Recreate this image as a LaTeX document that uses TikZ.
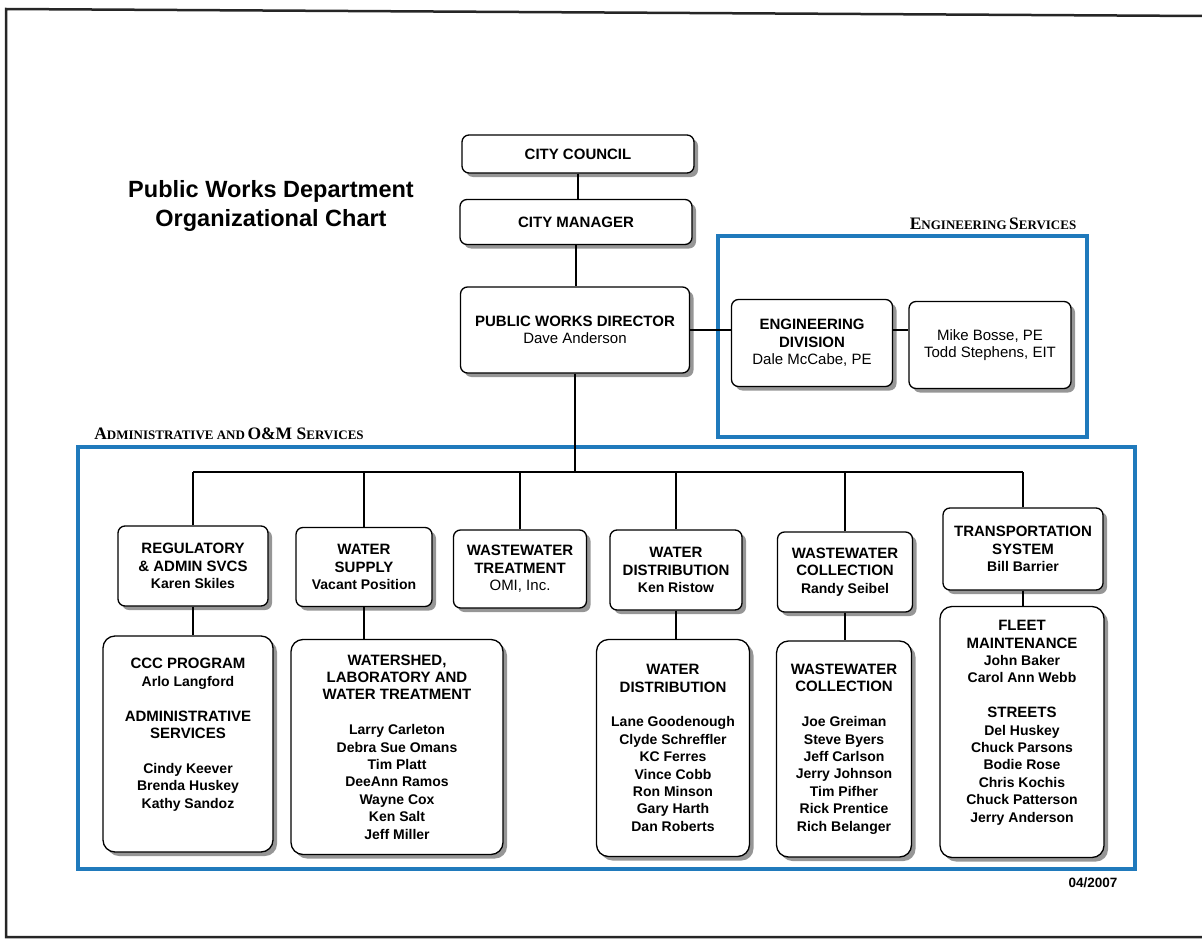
\documentclass[tikz,border=0pt]{standalone}
\usepackage{fontspec}
\setmainfont{Liberation Sans}
\newfontfamily\decofont{Liberation Serif}
\usetikzlibrary{shadows}
\definecolor{frameblue}{RGB}{32,122,188}
\definecolor{shade}{RGB}{150,150,150}
\newcommand{\capword}[2]{{\fontsize{17.5}{17.5}\selectfont #1}{\fontsize{13}{13}\selectfont #2}}
\newcommand{\hd}[1]{{\fontsize{15}{17.4}\selectfont #1}}
\newcommand{\rg}[1]{{\fontsize{15}{17.4}\selectfont\mdseries #1}}

\begin{document}
\begin{tikzpicture}[x=1pt,y=-1pt,
  unit/.style={draw,line width=1.3pt,rounded corners=7pt,fill=white,align=center,inner sep=0pt,
    font=\fontsize{14}{17.4}\selectfont\bfseries,
    drop shadow={shadow xshift=4pt,shadow yshift=-4pt,fill=shade,opacity=1}},
  group/.style={draw=frameblue,line width=4.5pt},
  wire/.style={line width=1.2pt}]
  \useasboundingbox (0,0) rectangle (1202,939);
  \draw[line width=2.5pt,black!85] (1202,16) -- (6,9) -- (6,937) -- (1202,937);

  \node[font=\fontsize{23.5}{29}\selectfont\bfseries,align=center] (title) at (271,206)
    {Public Works Department\\Organizational Chart};
  \node[font=\decofont\bfseries] (englabel) at (993,224) {\capword{E}{NGINEERING} \capword{S}{ERVICES}};
  \node[font=\decofont\bfseries] (admlabel) at (229,434)
    {\capword{A}{DMINISTRATIVE AND} \capword{O\&M S}{ERVICES}};
  \node[font=\fontsize{13.5}{13.5}\selectfont\bfseries] (date) at (1093,883) {04/2007};

  \draw[group] (718,236) rectangle (1087,437);
  \draw[group] (78,447) rectangle (1135,869);

  \node[unit,minimum width=232pt,minimum height=38pt] (council) at (578,154) {\hd{CITY COUNCIL}};
  \node[unit,minimum width=232pt,minimum height=45pt] (manager) at (576,222) {\hd{CITY MANAGER}};
  \node[unit,minimum width=229pt,minimum height=86pt] (director) at (575,330)
    {\hd{PUBLIC WORKS DIRECTOR}\\\rg{Dave Anderson}};
  \node[unit,minimum width=161pt,minimum height=87pt] (engdiv) at (812,343)
    {\hd{ENGINEERING}\\\hd{DIVISION}\\\rg{Dale McCabe, PE}};
  \node[unit,minimum width=162pt,minimum height=87pt] (engstaff) at (990,345)
    {\rg{Mike Bosse, PE}\\\rg{Todd Stephens, EIT}};

  \node[unit,minimum width=150pt,minimum height=80pt] (reg) at (193,566)
    {\hd{REGULATORY}\\\hd{\& ADMIN SVCS}\\Karen Skiles};
  \node[unit,minimum width=136pt,minimum height=79pt] (supply) at (364,567)
    {\hd{WATER}\\\hd{SUPPLY}\\Vacant Position};
  \node[unit,minimum width=133pt,minimum height=78pt] (wwtreat) at (520,569)
    {\hd{WASTEWATER}\\\hd{TREATMENT}\\\rg{OMI, Inc.}};
  \node[unit,minimum width=132pt,minimum height=80pt] (distr) at (676,570)
    {\hd{WATER}\\\hd{DISTRIBUTION}\\Ken Ristow};
  \node[unit,minimum width=135pt,minimum height=80pt] (collect) at (845,572)
    {\hd{WASTEWATER}\\\hd{COLLECTION}\\Randy Seibel};
  \node[unit,minimum width=160pt,minimum height=82pt] (transp) at (1023,549)
    {\hd{TRANSPORTATION}\\\hd{SYSTEM}\\Bill Barrier};

  \node[unit,rounded corners=12pt,minimum width=170pt,minimum height=216pt] (ccc) at (188,744)
    {\hd{CCC PROGRAM}\\Arlo Langford\\[17.4pt]\hd{ADMINISTRATIVE}\\\hd{SERVICES}\\[17.4pt]Cindy Keever\\Brenda Huskey\\Kathy Sandoz\\[4pt]};
  \node[unit,rounded corners=12pt,minimum width=212pt,minimum height=215pt] (shed) at (397,747)
    {\hd{WATERSHED,}\\\hd{LABORATORY AND}\\\hd{WATER TREATMENT}\\[17.4pt]Larry Carleton\\Debra Sue Omans\\Tim Platt\\DeeAnn Ramos\\Wayne Cox\\Ken Salt\\Jeff Miller};
  \node[unit,rounded corners=12pt,minimum width=153pt,minimum height=217pt] (distrstaff) at (673,748)
    {\hd{WATER}\\\hd{DISTRIBUTION}\\[17.4pt]Lane Goodenough\\Clyde Schreffler\\KC Ferres\\Vince Cobb\\Ron Minson\\Gary Harth\\Dan Roberts};
  \node[unit,rounded corners=12pt,minimum width=135pt,minimum height=216pt] (collstaff) at (844,749)
    {\hd{WASTEWATER}\\\hd{COLLECTION}\\[17.4pt]Joe Greiman\\Steve Byers\\Jeff Carlson\\Jerry Johnson\\Tim Pifher\\Rick Prentice\\Rich Belanger};
  \node[unit,rounded corners=12pt,minimum width=164pt,minimum height=251pt] (fleet) at (1022,732)
    {\hd{FLEET}\\\hd{MAINTENANCE}\\John Baker\\Carol Ann Webb\\[17.4pt]\hd{STREETS}\\Del Huskey\\Chuck Parsons\\Bodie Rose\\Chris Kochis\\Chuck Patterson\\Jerry Anderson\\[4pt]};

  \coordinate (bus) at (583,472);
  \draw[wire] (council.south) -- (council.south |- manager.north);
  \draw[wire] (manager.south) -- (manager.south |- director.north);
  \draw[wire] (director.south) -- (director.south |- bus);
  \draw[wire] (director.east) -- (director.east -| engdiv.west);
  \draw[wire] (engdiv.east |- director.east) -- (engstaff.west |- director.east);
  \draw[wire] (reg.north |- bus) -- (transp.north |- bus);
  \foreach \n in {reg,supply,wwtreat,distr,collect,transp}
    \draw[wire] (\n.north) -- (\n.north |- bus);
  \foreach \a/\b in {reg/ccc,supply/shed,distr/distrstaff,collect/collstaff,transp/fleet}
    \draw[wire] (\a.south) -- (\a.south |- \b.north);
\end{tikzpicture}
\end{document}
